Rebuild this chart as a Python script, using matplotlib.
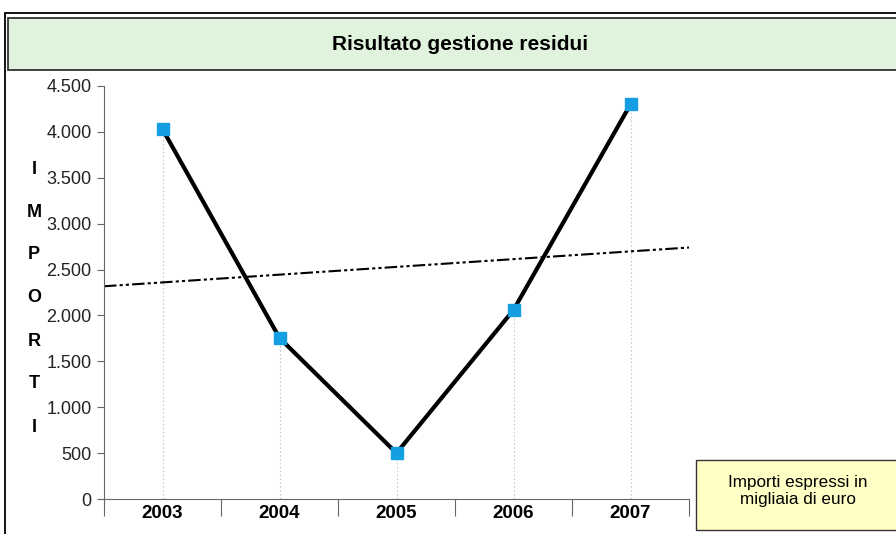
import numpy as np
import matplotlib.pyplot as plt
from matplotlib.patches import Rectangle
from matplotlib.ticker import FuncFormatter

plt.rcParams['font.family'] = ['Liberation Sans', 'DejaVu Sans']

# dati
anni = ['2003', '2004', '2005', '2006', '2007']
valori = [4030, 1755, 500, 2060, 4300]

W, H = 896, 534
fig = plt.figure(figsize=(W / 100, H / 100), dpi=100)

# cornice esterna
fig.patches.append(Rectangle((5 / W, -0.1), 1.2, 1 - 13 / H + 0.1, transform=fig.transFigure,
                             fill=False, edgecolor='black', linewidth=1.3))
# riquadro titolo
fig.patches.append(Rectangle((8 / W, 1 - 70 / H), 1.2, 52 / H, transform=fig.transFigure,
                             facecolor='#dff3dd', edgecolor='#333333', linewidth=1.3))
fig.text(460 / W, 1 - 45 / H, 'Risultato gestione residui', ha='center', va='center',
         fontsize=15, fontweight='bold')

# riquadro nota
fig.patches.append(Rectangle((696 / W, 1 - 530 / H), 1.2, 70 / H, transform=fig.transFigure,
                             facecolor='#ffffc6', edgecolor='#333333', linewidth=1.0))
fig.text(798 / W, 1 - 491 / H, 'Importi espressi in\nmigliaia di euro', ha='center', va='center',
         fontsize=12.3, linespacing=1.15)

# etichetta verticale
lettere = 'IMPORTI'
for i, c in enumerate(lettere):
    fig.text(34 / W, 1 - (169 + i * 43) / H, c, ha='center', va='center',
             fontsize=13, fontweight='bold')

ax = fig.add_axes([104 / W, 1 - 499 / H, (689 - 104) / W, (499 - 86) / H])
x = np.arange(1, len(anni) + 1)

# linee di richiamo
ax.vlines(x, 0, valori, colors='#c8c8c8', linestyles=(0, (1.5, 2)), linewidth=0.8)

# linea di tendenza
coef = np.polyfit(x, valori, 1)
xt = np.array([0.5, 5.5])
ax.plot(xt, np.polyval(coef, xt), color='black', linewidth=1.5,
        linestyle=(0, (6, 1.5, 1.5, 1.5, 1.5, 1.5)))

ax.plot(x, valori, color='black', linewidth=3, zorder=3)
ax.plot(x, valori, linestyle='none', marker='s', markersize=8.5, color='#149fe3', zorder=4)

ax.set_xlim(0.5, 5.5)
ax.set_ylim(0, 4500)
ax.set_yticks(np.arange(0, 4501, 500))
ax.yaxis.set_major_formatter(FuncFormatter(lambda v, p: f'{int(v):,}'.replace(',', '.')))

ax.set_xticks(np.arange(0.5, 5.6, 1))
ax.set_xticklabels([])
ax.set_xticks(x, minor=True)
ax.set_xticklabels(anni, minor=True, fontweight='bold', fontsize=13.5)
ax.tick_params(axis='x', which='major', length=12, direction='out', color='#666666')
ax.tick_params(axis='x', which='minor', length=0, pad=4)
ax.tick_params(axis='y', length=5, color='#666666', labelsize=13, labelcolor='#222222', pad=4)

for s in ['top', 'right']:
    ax.spines[s].set_visible(False)
for s in ['left', 'bottom']:
    ax.spines[s].set_color('#666666')

fig.savefig('out.png', dpi=100)
